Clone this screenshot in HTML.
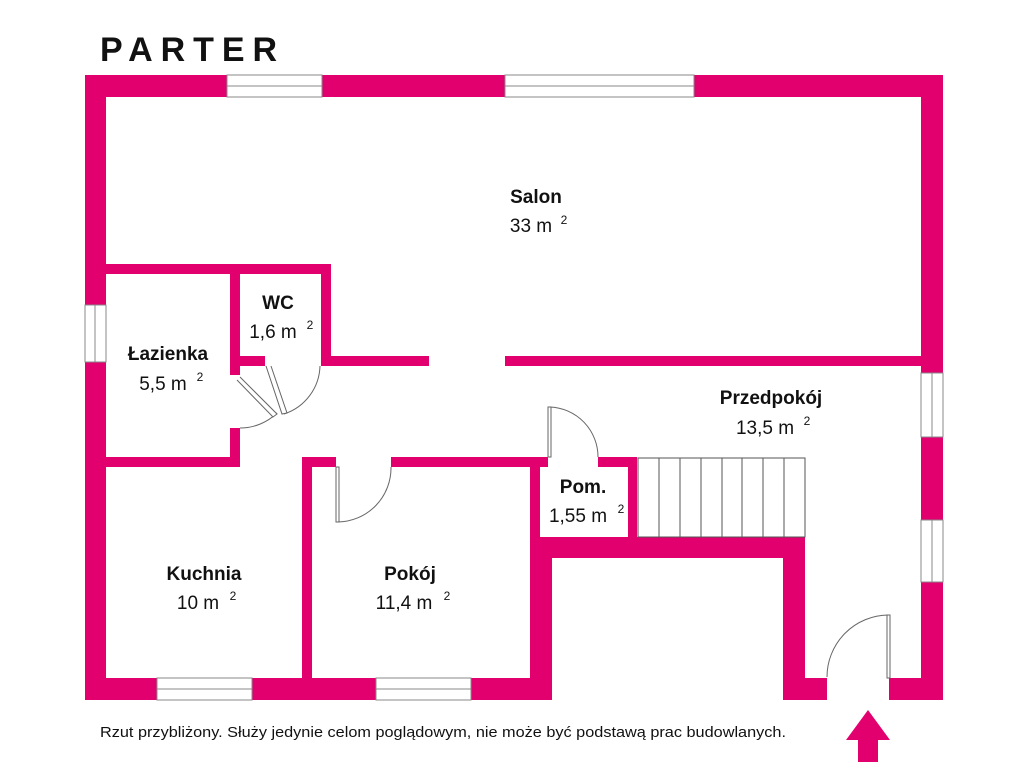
<!DOCTYPE html>
<html><head><meta charset="utf-8"><style>
html,body{margin:0;padding:0;background:#fff;}
svg{display:block;}
text{font-family:"Liberation Sans",sans-serif;fill:#111;}
</style></head><body>
<svg width="1024" height="768" viewBox="0 0 1024 768" xmlns="http://www.w3.org/2000/svg">
<text x="100" y="61" font-size="34" font-weight="bold" textLength="177" lengthAdjust="spacing">PARTER</text>
<g fill="#E2006F">
<!-- outer -->
<rect x="85" y="75" width="858" height="22"/>
<rect x="85" y="75" width="21" height="625"/>
<rect x="921" y="75" width="22" height="625"/>
<rect x="85" y="678" width="467" height="22"/>
<rect x="783" y="678" width="44" height="22"/>
<rect x="889" y="678" width="54" height="22"/>
<!-- internal -->
<rect x="106" y="264" width="225" height="10"/>
<rect x="230" y="264" width="10" height="111"/>
<rect x="230" y="428" width="10" height="39"/>
<rect x="321" y="264" width="10" height="102"/>
<rect x="240" y="356" width="25" height="10"/>
<rect x="321" y="356" width="108" height="10"/>
<rect x="505" y="356" width="416" height="10"/>
<rect x="106" y="457" width="134" height="10"/>
<rect x="302" y="457" width="10" height="221"/>
<rect x="302" y="457" width="34" height="10"/>
<rect x="391" y="457" width="157" height="10"/>
<rect x="598" y="457" width="39" height="10"/>
<rect x="530" y="457" width="10" height="80"/>
<rect x="628" y="457" width="9" height="80"/>
<rect x="530" y="537" width="275" height="21"/>
<rect x="530" y="537" width="22" height="163"/>
<rect x="783" y="537" width="22" height="163"/>
<!-- arrow -->
<polygon points="868,710 890,740 878,740 878,762 858,762 858,740 846,740"/>
</g>
<!-- windows -->
<g fill="#fff" stroke="#888" stroke-width="1">
<rect x="227" y="75" width="95" height="22"/><line x1="227" y1="86" x2="322" y2="86"/>
<rect x="505" y="75" width="189" height="22"/><line x1="505" y1="86" x2="694" y2="86"/>
<rect x="85" y="305" width="21" height="57"/><line x1="95" y1="305" x2="95" y2="362"/>
<rect x="921" y="373" width="22" height="64"/><line x1="932" y1="373" x2="932" y2="437"/>
<rect x="921" y="520" width="22" height="62"/><line x1="932" y1="520" x2="932" y2="582"/>
<rect x="157" y="678" width="95" height="22"/><line x1="157" y1="689" x2="252" y2="689"/>
<rect x="376" y="678" width="95" height="22"/><line x1="376" y1="689" x2="471" y2="689"/>
</g>
<!-- doors -->
<g fill="none" stroke="#666" stroke-width="1">
<path d="M240,428 A53,53 0 0 0 277,413"/>
<path d="M240,377 L277,414 L273,417 L237,380" fill="#fff"/>
<path d="M320,366 A52,52 0 0 1 284,414"/>
<path d="M266,366 L282,414 L287,413 L271,366" fill="#fff"/>
<rect x="336" y="467" width="3" height="55" fill="#fff"/>
<path d="M338,522 A54,54 0 0 0 391,467"/>
<rect x="548" y="407" width="3" height="50" fill="#fff"/>
<path d="M550,407 A50,50 0 0 1 598,457"/>
<rect x="887" y="615" width="3" height="63" fill="#fff"/>
<path d="M888,615 A62,62 0 0 0 827,677"/>
</g>
<!-- stairs -->
<g fill="none" stroke="#555" stroke-width="1">
<rect x="638" y="458" width="167" height="79"/>
<line x1="659" y1="458" x2="659" y2="537"/><line x1="680" y1="458" x2="680" y2="537"/>
<line x1="701" y1="458" x2="701" y2="537"/><line x1="722" y1="458" x2="722" y2="537"/>
<line x1="742" y1="458" x2="742" y2="537"/><line x1="763" y1="458" x2="763" y2="537"/>
<line x1="784" y1="458" x2="784" y2="537"/>
</g>
<!-- labels -->
<g font-size="19" text-anchor="middle">
<text x="536" y="203" font-weight="bold">Salon</text>
<text x="531" y="232">33 m</text><text x="564" y="224" font-size="12">2</text>
<text x="278" y="309" font-weight="bold">WC</text>
<text x="273" y="338">1,6 m</text><text x="310" y="329" font-size="12">2</text>
<text x="168" y="360" font-weight="bold">Łazienka</text>
<text x="163" y="390">5,5 m</text><text x="200" y="381" font-size="12">2</text>
<text x="771" y="404" font-weight="bold">Przedpokój</text>
<text x="765" y="434">13,5 m</text><text x="807" y="425" font-size="12">2</text>
<text x="583" y="493" font-weight="bold">Pom.</text>
<text x="578" y="522">1,55 m</text><text x="621" y="513" font-size="12">2</text>
<text x="204" y="580" font-weight="bold">Kuchnia</text>
<text x="198" y="609">10 m</text><text x="233" y="600" font-size="12">2</text>
<text x="410" y="580" font-weight="bold">Pokój</text>
<text x="404" y="609">11,4 m</text><text x="447" y="600" font-size="12">2</text>
</g>
<text x="100" y="737" font-size="15" textLength="686" lengthAdjust="spacingAndGlyphs">Rzut przybliżony. Służy jedynie celom poglądowym, nie może być podstawą prac budowlanych.</text>
</svg>
</body></html>
